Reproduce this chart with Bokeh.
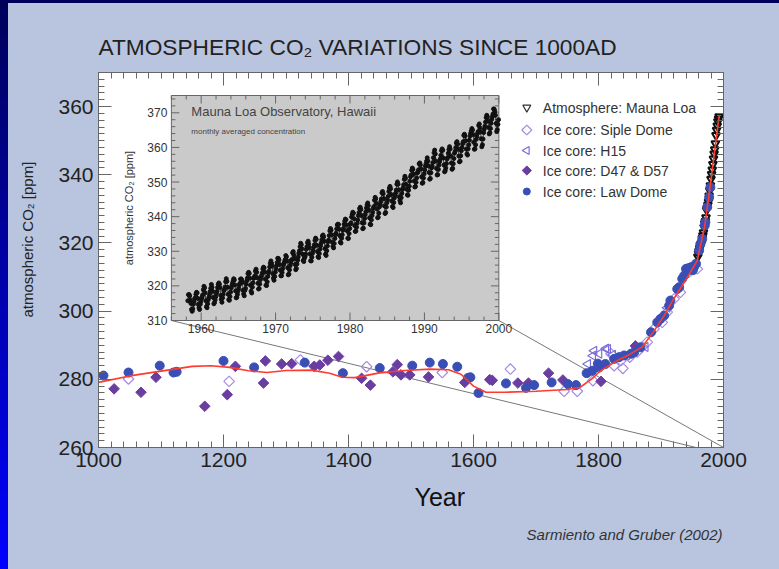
import math
from bokeh.plotting import figure
from bokeh.models import (Range1d, LinearAxis, SingleIntervalTicker, Label, Title,
                          CustomJSTickFormatter)
from bokeh.embed import file_html
from bokeh.resources import INLINE

# ---------------- data ----------------
law_dome_year = [1008, 1048, 1098, 1120, 1125, 1200, 1249, 1330, 1391, 1450, 1502, 1530, 1551, 1574, 1591,
                 1595, 1608, 1652, 1684, 1697, 1725, 1751, 1764, 1781, 1790, 1799, 1801, 1811, 1825, 1833,
                 1841, 1852, 1857, 1867, 1884, 1894, 1899, 1905, 1913, 1915, 1926, 1929, 1934, 1937, 1940,
                 1942, 1944, 1948, 1951, 1953, 1956, 1961, 1963, 1966, 1970, 1971, 1974, 1977, 1979]
law_dome_co2 = [281.1, 282.0, 284.0, 282.0, 282.2, 285.4, 283.5, 284.9, 281.8, 283.3, 284.0, 284.9, 284.5, 283.7, 280.4,
                280.6, 276.0, 278.8, 277.5, 278.3, 279.1, 278.6, 278.3, 281.8, 282.5, 284.6, 283.5, 284.5, 286.0, 286.5,
                287.0, 287.5, 287.9, 289.4, 293.8, 296.7, 297.7, 298.7, 301.6, 303.1, 306.5, 307.0, 309.5, 310.4, 312.4,
                311.8, 312.6, 312.9, 312.0, 313.0, 313.9, 317.8, 319.7, 321.2, 325.1, 326.1, 330.5, 333.4, 336.3]

d47_year = [1025, 1068, 1092, 1170, 1206, 1219, 1264, 1267, 1293, 1309, 1345, 1354, 1367, 1384, 1421,
            1435, 1471, 1478, 1484, 1498, 1528, 1586, 1626, 1630, 1671, 1688, 1720, 1743, 1804, 1859]
d47_co2 = [277.2, 276.2, 280.6, 272.1, 275.5, 283.8, 278.9, 285.4, 284.5, 284.6, 283.8, 284.2, 285.6, 286.7, 280.3,
           278.3, 282.2, 284.3, 281.3, 281.3, 280.7, 279.1, 279.9, 279.7, 278.9, 278.9, 281.8, 279.8, 279.4, 289.8]

siple_year = [1048, 1209, 1323, 1429, 1550, 1659, 1745, 1766, 1791, 1820, 1825, 1836, 1839, 1850, 1862,
              1870, 1878, 1889, 1902, 1910, 1921, 1931, 1945, 1958]
siple_co2 = [280.1, 279.4, 285.7, 283.7, 282.0, 283.0, 276.5, 276.5, 279.6, 287.5, 284.0, 285.5, 283.2, 286.5, 288.0,
             289.5, 290.9, 294.8, 296.7, 299.7, 303.6, 305.5, 311.5, 312.4]

h15_year = [1783, 1791, 1793, 1801, 1812, 1815, 1823, 1830, 1845, 1875, 1910]
h15_co2 = [284.5, 286.9, 288.4, 287.5, 289.0, 288.9, 287.2, 286.5, 287.0, 289.5, 301.0]

mlo_annual_year = list(range(1959, 1994))
mlo_annual_co2 = [315.97, 316.91, 317.64, 318.45, 318.99, 319.62, 320.04, 321.38, 322.16, 323.04, 324.62,
                  325.68, 326.32, 327.45, 329.68, 330.18, 331.11, 332.04, 333.83, 335.40, 336.84, 338.75,
                  340.11, 341.45, 343.05, 344.65, 346.12, 347.42, 349.19, 351.57, 353.12, 354.39, 355.61,
                  356.45, 357.10]

spline_year = [1000, 1050, 1100, 1150, 1180, 1210, 1240, 1270, 1300, 1340, 1370, 1390, 1410, 1450, 1490,
               1530, 1560, 1580, 1600, 1620, 1650, 1700, 1750, 1770, 1790, 1800, 1810, 1830, 1850, 1870,
               1890, 1905, 1920, 1935, 1945, 1958, 1970, 1980, 1993]
spline_co2 = [279.1, 281.0, 282.4, 283.8, 284.0, 283.5, 282.5, 282.0, 282.6, 282.7, 281.8, 280.6, 280.5, 281.9,
              282.6, 283.0, 282.8, 281.5, 278.0, 276.2, 276.2, 276.5, 277.0, 277.6, 280.2, 282.0, 283.3, 285.5,
              287.3, 289.5, 294.5, 298.7, 303.5, 307.8, 310.8, 314.8, 325.0, 338.5, 357.3]

# Mauna Loa monthly averages (inset), one row per year Jan..Dec
mlo_month_year = list(range(1958, 2000))
mlo_monthly = [
    [None, None, 315.71, 317.45, 317.50, 317.10, 315.86, 314.93, 313.20, 312.66, 313.33, 314.67],
    [315.42, 316.31, 316.50, 317.56, 318.13, 318.00, 316.39, 314.65, 313.68, 313.18, 314.66, 315.43],
    [316.27, 316.81, 317.42, 318.87, 319.87, 319.43, 318.01, 315.74, 314.00, 313.68, 314.84, 316.03],
    [316.73, 317.54, 318.38, 319.31, 320.42, 319.61, 318.42, 316.63, 314.83, 315.16, 315.94, 316.85],
    [317.78, 318.40, 319.53, 320.42, 320.85, 320.45, 319.45, 317.25, 316.11, 315.27, 316.53, 317.53],
    [318.58, 318.92, 319.70, 321.22, 322.08, 321.31, 319.58, 317.61, 316.05, 315.83, 316.91, 318.20],
    [319.41, 320.07, 320.74, 321.40, 322.06, 321.73, 320.27, 318.54, 316.54, 316.71, 317.53, 318.55],
    [319.27, 320.28, 320.73, 321.97, 322.00, 321.71, 321.05, 318.71, 317.66, 317.14, 318.70, 319.25],
    [320.46, 321.43, 322.23, 323.54, 323.91, 323.59, 322.24, 320.20, 318.48, 317.94, 319.63, 320.87],
    [322.17, 322.34, 322.88, 324.25, 324.83, 323.93, 322.38, 320.76, 319.10, 319.24, 320.56, 321.80],
    [322.40, 322.99, 323.73, 324.86, 325.40, 325.20, 323.98, 321.95, 320.18, 320.09, 321.16, 322.74],
    [323.83, 324.26, 325.47, 326.50, 327.21, 326.54, 325.72, 323.50, 322.22, 321.62, 322.69, 323.95],
    [324.89, 325.82, 326.77, 327.97, 327.91, 327.50, 326.18, 324.53, 322.93, 322.90, 323.85, 324.96],
    [326.01, 326.51, 327.01, 327.62, 328.76, 328.40, 327.20, 325.27, 323.20, 323.40, 324.63, 325.85],
    [326.60, 327.47, 327.58, 329.56, 329.90, 328.92, 327.88, 326.16, 324.68, 325.04, 326.34, 327.39],
    [328.37, 329.40, 330.14, 331.33, 332.31, 331.90, 330.70, 329.15, 327.35, 327.02, 327.99, 328.48],
    [329.18, 330.55, 331.32, 332.48, 332.92, 332.08, 331.01, 329.23, 327.27, 327.21, 328.29, 329.41],
    [330.23, 331.25, 331.87, 333.14, 333.80, 333.43, 331.73, 329.90, 328.40, 328.17, 329.32, 330.59],
    [331.58, 332.39, 333.33, 334.41, 334.71, 334.17, 332.89, 330.77, 329.14, 328.78, 330.14, 331.52],
    [332.75, 333.24, 334.53, 335.90, 336.57, 336.10, 334.76, 332.59, 331.42, 330.98, 332.24, 333.68],
    [334.80, 335.22, 336.47, 337.59, 337.84, 337.72, 336.37, 334.51, 332.60, 332.38, 333.75, 334.78],
    [336.05, 336.59, 337.79, 338.71, 339.30, 339.12, 337.56, 335.92, 333.75, 333.70, 335.12, 336.56],
    [337.84, 338.19, 339.91, 340.60, 341.29, 341.00, 339.39, 337.43, 335.72, 335.84, 336.93, 338.04],
    [339.06, 340.30, 341.21, 342.33, 342.74, 342.08, 340.32, 338.26, 336.52, 336.68, 338.19, 339.44],
    [340.57, 341.44, 342.53, 343.39, 343.96, 343.18, 341.88, 339.65, 337.81, 337.69, 339.09, 340.32],
    [341.20, 342.35, 342.93, 344.77, 345.58, 345.14, 343.81, 342.21, 339.69, 339.82, 340.98, 342.82],
    [343.52, 344.33, 345.11, 346.88, 347.25, 346.62, 345.22, 343.11, 340.90, 341.18, 342.80, 344.04],
    [344.79, 345.82, 347.25, 348.17, 348.74, 348.07, 346.38, 344.51, 342.92, 342.62, 344.06, 345.38],
    [346.11, 346.78, 347.68, 349.37, 350.03, 349.37, 347.76, 345.73, 344.68, 343.99, 345.48, 346.72],
    [347.84, 348.29, 349.23, 350.80, 351.66, 351.07, 349.33, 347.92, 346.27, 346.18, 347.64, 348.78],
    [350.25, 351.54, 352.05, 353.41, 354.04, 353.62, 352.22, 350.27, 348.55, 348.72, 349.91, 351.18],
    [352.60, 352.92, 353.53, 355.26, 355.52, 354.97, 353.75, 351.52, 349.64, 349.83, 351.14, 352.37],
    [353.50, 354.55, 355.23, 356.04, 357.00, 356.07, 354.67, 352.76, 350.82, 351.04, 352.69, 354.07],
    [354.59, 355.63, 357.03, 358.48, 359.22, 358.12, 356.06, 353.92, 352.05, 352.11, 353.64, 354.89],
    [355.88, 356.63, 357.72, 359.07, 359.58, 359.17, 356.94, 354.92, 352.94, 353.23, 354.09, 355.33],
    [356.63, 357.10, 358.32, 359.41, 360.23, 359.55, 357.53, 355.48, 353.67, 353.95, 355.30, 356.78],
    [358.34, 358.89, 359.95, 361.25, 361.67, 360.94, 359.55, 357.49, 355.84, 356.00, 357.59, 359.05],
    [359.98, 361.03, 361.66, 363.48, 363.82, 363.30, 361.94, 359.50, 358.11, 357.80, 359.61, 360.74],
    [362.09, 363.29, 364.06, 364.76, 365.45, 365.01, 363.70, 361.48, 359.45, 359.60, 360.76, 362.33],
    [363.18, 364.00, 364.57, 366.35, 366.79, 365.62, 364.47, 362.51, 360.19, 360.77, 362.43, 364.28],
    [365.32, 366.15, 367.31, 368.61, 369.29, 368.87, 367.64, 365.77, 363.90, 364.23, 365.46, 366.97],
    [368.15, 368.87, 369.59, 371.14, 371.00, 370.35, 369.27, 366.94, 364.63, 365.12, 366.67, 368.01],
]

inset_xticks = [1960, 1970, 1980, 1990, 2000]
inset_yticks = [310, 320, 330, 340, 350, 360, 370]

legend_labels = ["Atmosphere: Mauna Loa", "Ice core: Siple Dome", "Ice core: H15",
                 "Ice core: D47 & D57", "Ice core: Law Dome"]

# ---------------- layout ----------------
W, H = 779, 569
FL, FR, FT, FB = 97, 723, 72, 447          # frame in pixels
XR0, XR1, YR0, YR1 = 1000, 2000, 260, 370   # main ranges
IL, IR, IT, IB = 170, 498, 95, 320          # inset box in pixels
IX0, IX1, IY0, IY1 = 1956, 2000, 310, 375   # inset ranges

FONT = "Liberation Sans"
AXC = "#666666"

C_ML, C_SI, C_H15, C_D47, C_LD = "#111111", "#a68be0", "#7c6fd8", "#6a3ea1", "#3a4fb5"


def px2x(px):
    return XR0 + (px - FL) / (FR - FL) * (XR1 - XR0)


def py2y(py):
    return YR0 + (FB - py) / (FB - FT) * (YR1 - YR0)


p = figure(width=W, height=H, output_backend="svg", toolbar_location=None,
           x_range=Range1d(XR0, XR1), y_range=Range1d(YR0, YR1),
           x_axis_type=None, y_axis_type=None,
           min_border_left=FL, min_border_right=W - FR, min_border_top=FT, min_border_bottom=H - FB)
p.border_fill_color = None
p.background_fill_color = "white"
p.outline_line_color = AXC
p.grid.visible = False
p.styles = {"background": "linear-gradient(to bottom, #00005a, #0000ff) left top / 8px 100% no-repeat, "
                          "linear-gradient(#00005a, #00005a) left top / 100% 3px no-repeat, #b9c5df"}

# inset ranges
sx = (IR - IL) / (IX1 - IX0)
sy = (IB - IT) / (IY1 - IY0)
ix_start = IX0 - (IL - FL) / sx
iy_start = IY0 - (FB - IB) / sy
p.extra_x_ranges = {"ix": Range1d(ix_start, ix_start + (FR - FL) / sx)}
p.extra_y_ranges = {"iy": Range1d(iy_start, iy_start + (FB - FT) / sy)}


def make_axis(side, interval, minor, labels=True):
    ax = LinearAxis(ticker=SingleIntervalTicker(interval=interval, num_minor_ticks=minor))
    ax.axis_line_color = AXC
    ax.major_tick_line_color = AXC
    ax.minor_tick_line_color = AXC
    ax.major_tick_in = 13
    ax.major_tick_out = 0
    ax.minor_tick_in = 6
    ax.minor_tick_out = 0
    ax.major_label_text_font = FONT
    ax.major_label_text_font_size = "21px"
    ax.major_label_text_color = "#222222"
    if not labels:
        ax.formatter = CustomJSTickFormatter(code="return ''")
        ax.major_label_standoff = 0
    else:
        ax.major_label_standoff = 5
    p.add_layout(ax, side)
    return ax


make_axis("below", 200, 10)
make_axis("left", 20, 10)
make_axis("above", 200, 10, labels=False)
make_axis("right", 20, 10, labels=False)

# outside texts as titles
p.title.text = "ATMOSPHERIC CO\u2082 VARIATIONS SINCE 1000AD"
p.title.align = "left"
p.title.offset = 0
p.title.standoff = 26
p.title.text_font = FONT
p.title.text_font_size = "22.7px"
p.title.text_font_style = "normal"
p.title.text_color = "#222222"

p.add_layout(Title(text="Year", align="left", offset=316, vertical_align="top", standoff=26,
                   text_font=FONT, text_font_size="25px", text_font_style="normal",
                   text_color="#111111"), "below")
p.add_layout(Title(text="Sarmiento and Gruber (2002)", align="right", offset=1, vertical_align="top",
                   standoff=0, text_font=FONT, text_font_size="15px", text_font_style="italic",
                   text_color="#333333"), "below")
p.add_layout(Title(text="atmospheric CO\u2082 [ppm]", align="left", offset=130, vertical_align="top",
                   standoff=36, text_font=FONT, text_font_size="15px", text_font_style="normal",
                   text_color="#222222"), "left")

# zoom lines from inset corners to main x-axis
cx0, cy0 = px2x(IL), py2y(IB)
cx1 = px2x(IR)
p.segment(x0=[cx0, cx1], y0=[cy0, cy0], x1=[IX0, IX1], y1=[YR0, YR0], line_color="#777777", line_width=1)

# inset box
p.quad(left=[IX0], right=[IX1], bottom=[IY0], top=[IY1], fill_color="#cacaca", line_color=AXC,
       line_width=1, x_range_name="ix", y_range_name="iy")

# inset ticks
xs_minor = [v for v in range(IX0, IX1 + 1, 2) if v not in inset_xticks]
ys_minor = [v for v in range(IY0, IY1 + 1, 2) if v not in inset_yticks]
seg = dict(x0=[], y0=[], x1=[], y1=[])
for xv in inset_xticks + xs_minor:
    L = (8 if xv in inset_xticks else 4) / sy
    seg["x0"] += [xv, xv]; seg["x1"] += [xv, xv]
    seg["y0"] += [IY0, IY1]; seg["y1"] += [IY0 + L, IY1 - L]
for yv in inset_yticks + ys_minor:
    L = (8 if yv in inset_yticks else 4) / sx
    seg["y0"] += [yv, yv]; seg["y1"] += [yv, yv]
    seg["x0"] += [IX0, IX1]; seg["x1"] += [IX0 + L, IX1 - L]
p.segment(line_color=AXC, line_width=1, x_range_name="ix", y_range_name="iy", **seg)

# inset tick labels
p.text(x=inset_xticks, y=[IY0] * len(inset_xticks), text=[str(v) for v in inset_xticks],
       text_align="center", text_baseline="top", y_offset=3, text_font_size="12px",
       text_color="#333333", x_range_name="ix", y_range_name="iy", text_font={"value": FONT})
p.text(x=[IX0] * len(inset_yticks), y=inset_yticks, text=[str(v) for v in inset_yticks],
       text_align="right", text_baseline="middle", x_offset=-4, text_font_size="12px",
       text_color="#333333", x_range_name="ix", y_range_name="iy", text_font={"value": FONT})

# inset data
mx, my = [], []
for yr, row in zip(mlo_month_year, mlo_monthly):
    for m, v in enumerate(row):
        if v is not None:
            mx.append(yr + (m + 0.5) / 12)
            my.append(v)
p.line(mx, my, line_color="#222222", line_width=0.8, x_range_name="ix", y_range_name="iy")
p.scatter(mx, my, size=4, color="#111111", x_range_name="ix", y_range_name="iy")

# main data
p.scatter(mlo_annual_year, mlo_annual_co2, marker="inverted_triangle", size=8,
          fill_color=None, line_color=C_ML, line_width=2)
p.scatter(siple_year, siple_co2, marker="square", angle=math.pi / 4, size=7.5, fill_color=None,
          line_color=C_SI, line_width=1.2)
p.scatter(h15_year, h15_co2, marker="triangle", angle=math.pi / 2, size=9, fill_color=None,
          line_color=C_H15, line_width=1.2)
p.scatter(d47_year, d47_co2, marker="square", angle=math.pi / 4, size=7.5, fill_color=C_D47,
          line_color=C_D47)
p.scatter(law_dome_year, law_dome_co2, marker="circle", size=9, fill_color=C_LD, line_color=C_LD)
p.line(spline_year, spline_co2, line_color="#ff3b2f", line_width=1.6)

# legend (drawn by hand so the H15 marker can point left)
LEG_X, LEG_TX = 526, 542
LEG_Y = [107, 129.5, 150, 170, 191]
lx, ly = [px2x(LEG_X)] * 5, [py2y(v) for v in LEG_Y]
p.scatter(lx[0:1], ly[0:1], marker="inverted_triangle", size=8, fill_color=None, line_color="#333333",
          line_width=1.2)
p.scatter(lx[1:2], ly[1:2], marker="square", angle=math.pi / 4, size=7, fill_color=None,
          line_color=C_SI, line_width=1.2)
p.scatter(lx[2:3], ly[2:3], marker="triangle", angle=math.pi / 2, size=8, fill_color=None,
          line_color=C_H15, line_width=1.2)
p.scatter(lx[3:4], ly[3:4], marker="square", angle=math.pi / 4, size=6.5, fill_color=C_D47,
          line_color=C_D47)
p.scatter(lx[4:5], ly[4:5], marker="circle", size=7, fill_color=C_LD, line_color=C_LD)
p.text(x=[px2x(LEG_TX)] * 5, y=ly, text=legend_labels, text_align="left", text_baseline="middle",
       text_font={"value": FONT}, text_font_size="14px", text_color="#333333")


def add_label(px, py, text, size, align="left", color="#222222", angle=0):
    p.add_layout(Label(x=px2x(px), y=py2y(py), text=text, text_font=FONT, text_font_size=size,
                       text_align=align, text_baseline="middle", text_color=color, angle=angle))


add_label(190, 111, "Mauna Loa Observatory, Hawaii", "13px", color="#444444")
add_label(190, 131, "monthly averaged concentration", "8px", color="#444444")
add_label(128, (IT + IB) / 2, "atmospheric CO\u2082 [ppm]", "11px", align="center", angle=math.pi / 2,
          color="#333333")

open("out.html", "w").write(file_html(p, INLINE))
